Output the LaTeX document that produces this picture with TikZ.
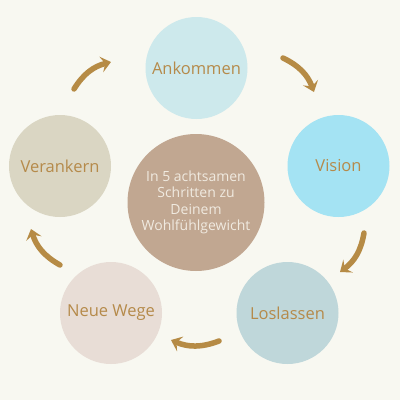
\documentclass[tikz,border=0pt]{standalone}
\usepackage{fontspec}
\setmainfont{Open Sans}
\usetikzlibrary{arrows.meta}
\definecolor{bg}{HTML}{F8F8F1}
\definecolor{cAnk}{HTML}{CDE9EC}
\definecolor{cVis}{HTML}{A4E3F3}
\definecolor{cVer}{HTML}{DAD6C3}
\definecolor{cMid}{HTML}{C1A791}
\definecolor{cLos}{HTML}{BFD7DA}
\definecolor{cNeu}{HTML}{E8DDD6}
\definecolor{gold}{HTML}{B58A4A}
\definecolor{arr}{HTML}{B68B45}
\definecolor{midtxt}{HTML}{F0EAE0}
\begin{document}
\begin{tikzpicture}[x=1pt,y=-1pt,
  stepcircle/.style={circle,minimum size=102pt,inner sep=0pt,
    font=\fontsize{16.5}{19}\selectfont,text=gold},
  midcircle/.style={circle,minimum size=137pt,inner sep=0pt,fill=cMid,
    font=\fontsize{14}{16.3}\selectfont,text=midtxt,align=center},
  flow/.style={draw=arr,line width=5.5pt,line cap=round,
    -{Stealth[length=10pt,width=16pt,inset=4pt]}}]
\fill[bg] (0,0) rectangle (400,400);
\useasboundingbox (0,0) rectangle (400,400);
\node[stepcircle,fill=cAnk] (ank) at (196.5,68) {Ankommen};
\node[stepcircle,fill=cVis] (vis) at (338.5,166) {Vision};
\node[stepcircle,fill=cVer] (ver) at (60,166) {Verankern};
\node[stepcircle,fill=cLos] (los) at (287.5,313) {Loslassen};
\node[stepcircle,fill=cNeu] (neu) at (111,313) {Neue Wege};
\node[midcircle] (mid) at (196,202.5) {In 5 achtsamen\\Schritten zu\\Deinem\\Wohlfühlgewicht};
\coordinate (a1s) at (74,89);
\coordinate (a1e) at (111,62);
\coordinate (a2s) at (283,58);
\coordinate (a2e) at (314,92);
\coordinate (a3s) at (364,233);
\coordinate (a3e) at (340,272);
\coordinate (a4s) at (219,341);
\coordinate (a4e) at (171,340);
\coordinate (a5s) at (60,265);
\coordinate (a5e) at (31,229);
\draw[flow] (a1s) to[bend left=22] (a1e);
\draw[flow] (a2s) to[bend left=22] (a2e);
\draw[flow] (a3s) to[bend left=22] (a3e);
\draw[flow] (a4s) to[bend left=22] (a4e);
\draw[flow] (a5s) to[bend left=22] (a5e);
\end{tikzpicture}
\end{document}
